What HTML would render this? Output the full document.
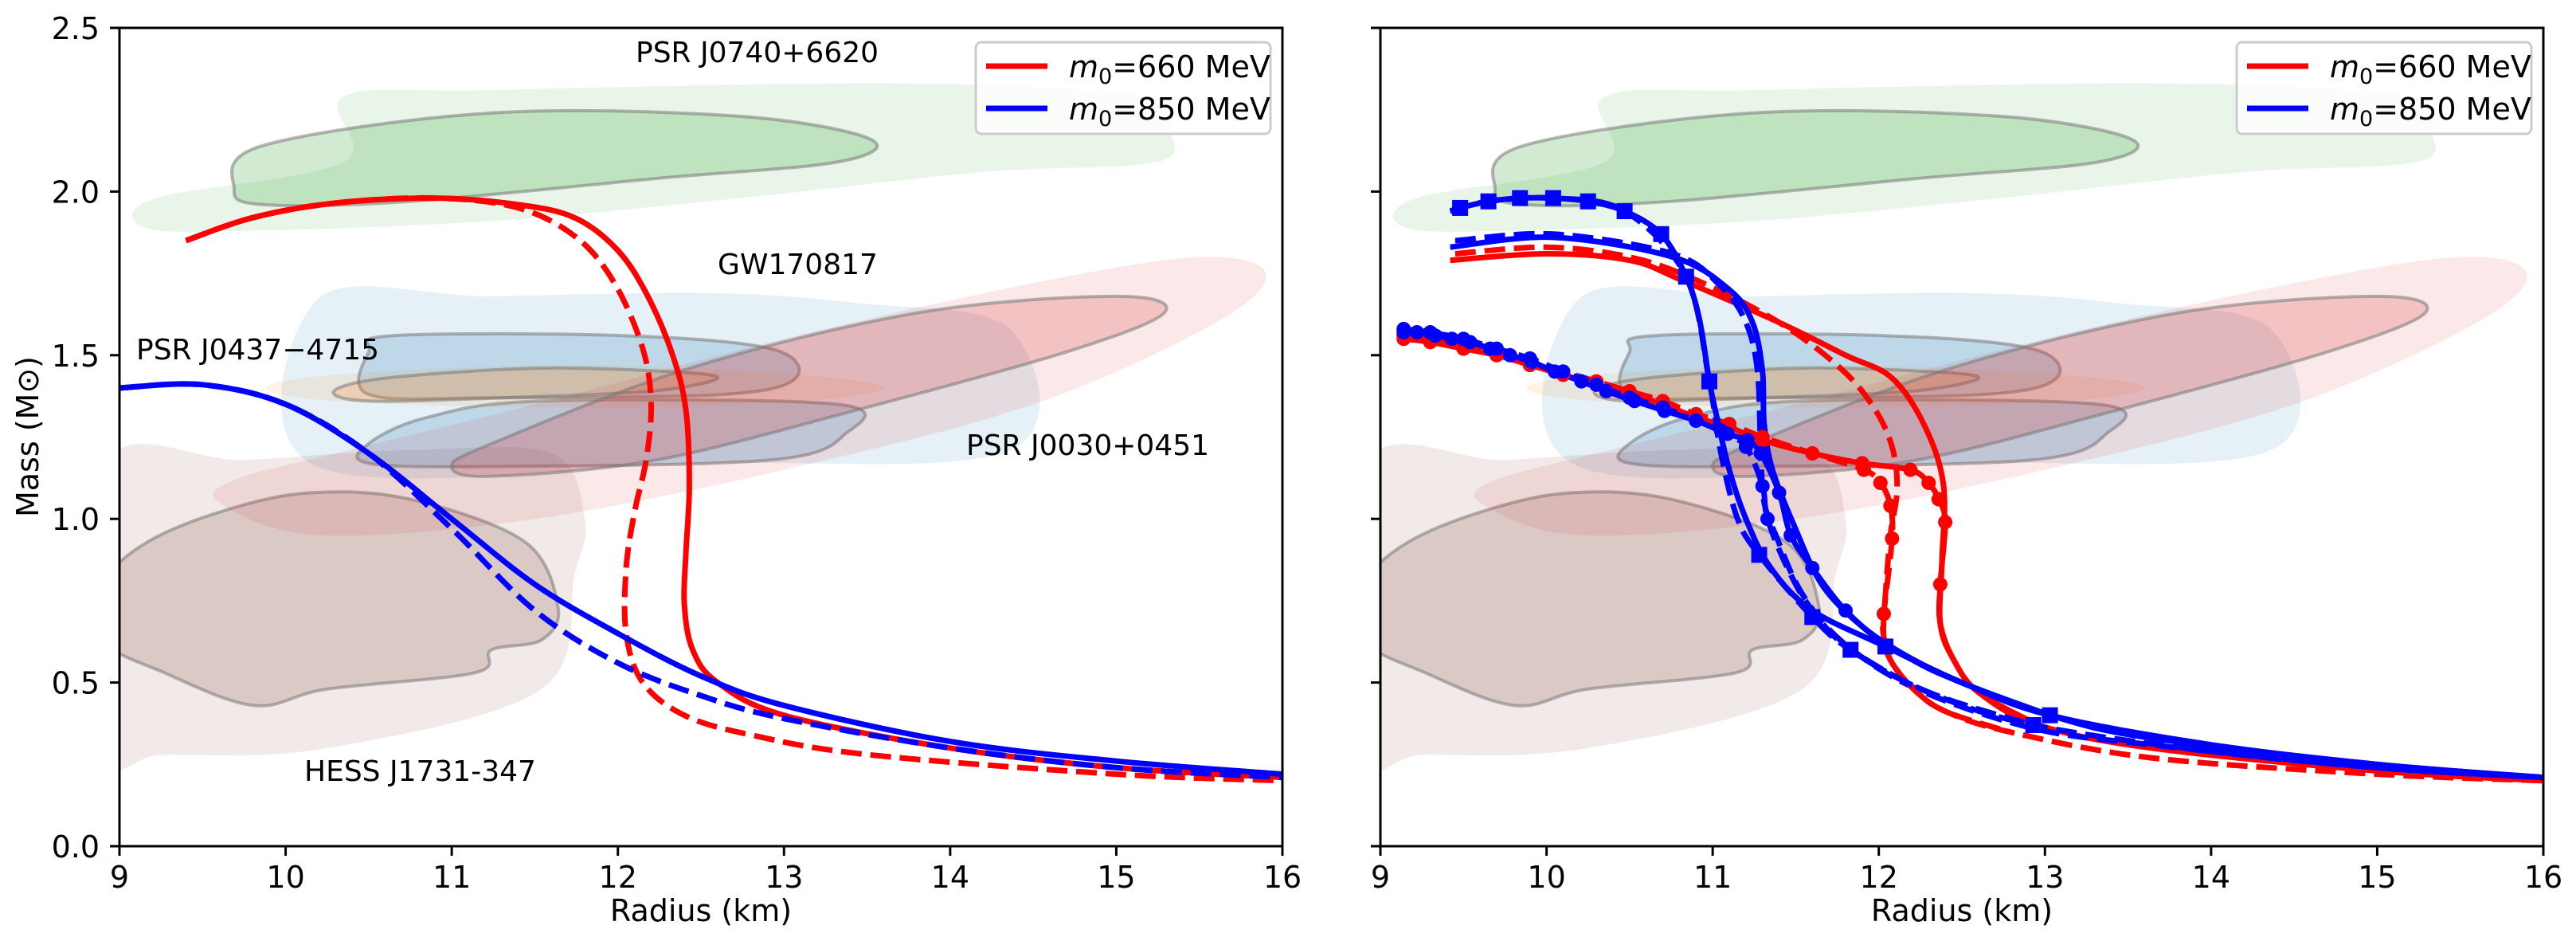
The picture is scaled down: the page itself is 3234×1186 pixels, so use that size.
<!DOCTYPE html>
<html><head><meta charset="utf-8"><style>
html,body{margin:0;padding:0;background:#fff;}
svg{display:block;font-family:"DejaVu Sans","Liberation Sans",sans-serif;}
</style></head><body>
<svg id="fig" width="3234" height="1186" viewBox="0 0 3234 1186" xmlns="http://www.w3.org/2000/svg">
<defs>
<clipPath id="clipL"><rect x="150" y="35" width="1460" height="1027"/></clipPath>
<clipPath id="clipR"><rect x="1733" y="35" width="1460" height="1027"/></clipPath>
</defs>
<g id="layer"></g>
</svg>
<script>
// ---- axis ticks ----
const xTicks = [9,10,11,12,13,14,15,16];
const yTicks = [0.0,0.5,1.0,1.5,2.0,2.5];
const yTickLabels = ['0.0','0.5','1.0','1.5','2.0','2.5'];

// ---- observational contours [radius, mass] ----
const greenLight = [[9.15,1.89],[9.22,1.98],[10.35,2.09],[10.35,2.29],[11.24,2.31],[13.71,2.33],[15.2,2.29],[15.32,2.19],[15.24,2.09],[14.2,2.06],[12.73,1.98],[11.24,1.91],[9.76,1.88]];
const greenDark = [[9.69,2.01],[9.86,2.14],[11.24,2.24],[12.73,2.23],[13.52,2.16],[13.32,2.09],[12.23,2.04],[10.75,1.97],[9.86,1.96]];
const blueLight = [[10.19,1.67],[11.24,1.68],[12.53,1.69],[13.42,1.66],[14.36,1.58],[14.36,1.21],[12.5,1.17],[10.19,1.16]];
const blueDarkA = [[10.5,1.51],[10.65,1.56],[12.03,1.56],[12.92,1.52],[13.07,1.43],[12.63,1.38],[11.24,1.37],[10.5,1.38]];
const blueDarkB = [[10.5,1.23],[10.85,1.31],[11.54,1.36],[13.32,1.35],[13.37,1.26],[12.92,1.18],[11.24,1.16],[10.5,1.17]];
const orangeLight = [[9.88,1.4],[10.3,1.44],[11.7,1.47],[13.1,1.44],[13.6,1.4],[13.1,1.36],[11.7,1.34],[10.3,1.36]];
const orangeDark = [[10.29,1.39],[10.6,1.43],[11.5,1.46],[12.3,1.45],[12.6,1.43],[12.2,1.39],[11.3,1.37],[10.5,1.36]];
const redLight = [[9.6,1.05],[10.2,0.95],[11.5,1.0],[13,1.15],[14.5,1.35],[15.6,1.6],[15.9,1.75],[15.5,1.8],[14.5,1.72],[13,1.55],[11.5,1.35],[10.3,1.2],[9.7,1.12]];
const redDark = [[11.0,1.16],[11.24,1.23],[12.43,1.46],[13.81,1.63],[15.0,1.68],[15.29,1.63],[14.7,1.51],[13.42,1.33],[12.23,1.18],[11.24,1.13]];
const hessLight = [[8.9,1.16],[9.76,1.18],[10.75,1.21],[11.6,1.2],[11.8,1.0],[11.74,0.83],[11.54,0.48],[10.25,0.3],[9.27,0.28],[8.9,0.3]];
const hessDark = [[8.9,0.8],[9.17,0.93],[9.66,1.03],[10.16,1.08],[10.75,1.06],[11.44,0.93],[11.64,0.73],[11.54,0.63],[11.24,0.6],[11.14,0.53],[10.25,0.48],[9.81,0.43],[9.27,0.53],[8.9,0.63]];

// ---- left panel series [radius, mass] ----
const L_red_solid = [[9.4,1.85],[9.8,1.92],[10.3,1.965],[10.9,1.98],[11.4,1.96],[11.74,1.92],[12.0,1.82],[12.18,1.68],[12.33,1.5],[12.41,1.33],[12.43,1.1],[12.41,0.9],[12.4,0.74],[12.45,0.6],[12.6,0.5],[13.0,0.4],[14,0.3],[15,0.24],[16,0.21]];
const L_red_dash = [[9.4,1.85],[9.8,1.92],[10.3,1.965],[10.9,1.98],[11.4,1.95],[11.75,1.86],[11.98,1.72],[12.15,1.52],[12.2,1.35],[12.17,1.18],[12.1,1.02],[12.05,0.85],[12.05,0.65],[12.15,0.5],[12.4,0.4],[12.8,0.34],[13.5,0.28],[15,0.22],[16,0.2]];
const L_blue_solid = [[9,1.4],[9.5,1.41],[10,1.35],[10.5,1.2],[11,1.0],[11.5,0.8],[12,0.65],[12.5,0.52],[13,0.43],[14,0.32],[15,0.26],[16,0.22]];
const L_blue_dash = [[9,1.4],[9.5,1.41],[10,1.35],[10.5,1.2],[11,0.97],[11.5,0.72],[12,0.56],[12.5,0.46],[13,0.39],[14,0.3],[15,0.24],[16,0.21]];

// ---- right panel series ----
const R_redB_solid = [[9.42,1.79],[10,1.81],[10.5,1.79],[10.81,1.73],[11.4,1.6],[11.8,1.5],[12.08,1.43],[12.28,1.28],[12.39,1.1],[12.38,0.87],[12.37,0.68],[12.45,0.57],[12.6,0.47],[12.96,0.37],[13.64,0.3],[15,0.23],[16,0.2]];
const R_redB_dash = [[9.45,1.81],[10,1.83],[10.5,1.8],[10.9,1.73],[11.4,1.6],[11.77,1.46],[11.97,1.34],[12.08,1.22],[12.11,1.09],[12.07,0.95],[12.04,0.77],[12.03,0.64],[12.08,0.56],[12.23,0.47],[12.41,0.41],[12.78,0.35],[13.64,0.27],[15,0.22],[16,0.2]];
const R_blueB_solid = [[9.42,1.83],[10.04,1.86],[10.76,1.8],[11.1,1.7],[11.24,1.6],[11.3,1.45],[11.31,1.29],[11.36,1.15],[11.49,0.98],[11.67,0.79],[11.95,0.65],[12.2,0.57],[12.45,0.51],[13.03,0.4],[13.64,0.33],[15,0.25],[16,0.21]];
const R_blueB_dash = [[9.45,1.85],[10.04,1.87],[10.76,1.81],[11.05,1.71],[11.2,1.6],[11.27,1.45],[11.29,1.19],[11.31,1.05],[11.38,0.95],[11.54,0.77],[11.79,0.62],[12.23,0.48],[12.93,0.36],[13.64,0.31],[15,0.24],[16,0.21]];
const R_redC_solid = [[9.14,1.55],[9.3,1.54],[9.5,1.52],[9.7,1.5],[9.9,1.47],[10.1,1.44],[10.3,1.41],[10.5,1.38],[10.7,1.35],[10.9,1.31],[11.1,1.28],[11.3,1.24],[11.6,1.2],[11.9,1.17],[12.19,1.15],[12.3,1.11],[12.36,1.06],[12.4,0.99],[12.37,0.8],[12.37,0.68],[12.45,0.57],[12.6,0.47],[12.96,0.37]];
const R_redC_dash = [[9.14,1.56],[9.3,1.55],[9.5,1.53],[9.7,1.51],[9.9,1.48],[10.1,1.45],[10.3,1.42],[10.5,1.39],[10.7,1.36],[10.9,1.32],[11.1,1.29],[11.3,1.25],[11.6,1.2],[11.91,1.15],[12.01,1.11],[12.07,1.04],[12.08,0.94],[12.03,0.71],[12.03,0.64],[12.08,0.56],[12.23,0.47],[12.41,0.41],[12.78,0.35]];
const R_blueC_solid = [[9.14,1.57],[9.22,1.57],[9.33,1.56],[9.43,1.55],[9.54,1.54],[9.66,1.52],[9.78,1.5],[9.91,1.48],[10.05,1.45],[10.21,1.42],[10.36,1.39],[10.53,1.36],[10.71,1.33],[10.9,1.3],[11.09,1.26],[11.21,1.24],[11.29,1.2],[11.4,1.08],[11.47,0.95],[11.6,0.85],[11.8,0.72],[12.04,0.62],[12.45,0.51],[13.03,0.4]];
const R_blueC_dash = [[9.14,1.58],[9.3,1.57],[9.5,1.55],[9.7,1.52],[9.9,1.49],[10.1,1.45],[10.3,1.41],[10.5,1.37],[10.7,1.34],[10.9,1.3],[11.05,1.27],[11.2,1.22],[11.3,1.1],[11.33,1.0],[11.45,0.85],[11.6,0.72],[11.83,0.6],[12.3,0.47],[12.93,0.37]];
const R_blueSq_solid = [[9.42,1.94],[9.48,1.95],[9.65,1.97],[9.84,1.98],[10.04,1.98],[10.25,1.97],[10.47,1.94],[10.69,1.87],[10.84,1.74],[10.92,1.61],[10.98,1.42],[11.03,1.3],[11.1,1.15],[11.2,1.0],[11.35,0.85],[11.6,0.72],[12.04,0.61],[12.5,0.5],[13.03,0.4],[14,0.31],[15,0.25],[16,0.21]];
const R_blueSq_dash = [[9.42,1.94],[9.65,1.97],[10.04,1.98],[10.47,1.94],[10.84,1.74],[10.98,1.42],[11.05,1.2],[11.15,1.0],[11.28,0.89],[11.6,0.7],[11.83,0.6],[12.3,0.47],[12.93,0.37],[14,0.29],[15,0.24],[16,0.21]];
const sqMarkIdx = [1,2,3,4,5,6,7,8,10,16,18];
const sqDashMarkIdx = [8,9,10,12];

const NS='http://www.w3.org/2000/svg';
const layer=document.getElementById('layer');
const RMIN=9,RMAX=16,MMIN=0,MMAX=2.5;
const PW=1460, YT=35, YB=1062;
function X(p,r){return p.x0+(r-RMIN)/(RMAX-RMIN)*PW;}
function Y(m){return YB-(m-MMIN)/(MMAX-MMIN)*(YB-YT);}
function mk(tag,parent){const e=document.createElementNS(NS,tag);parent.appendChild(e);return e;}
function smoothPath(p,arr,closed){
  const P=arr.map(d=>[X(p,d[0]),Y(d[1])]);
  const n=P.length;
  const get=i=>closed?P[(i+n)%n]:P[Math.max(0,Math.min(n-1,i))];
  let s='M'+P[0][0].toFixed(1)+','+P[0][1].toFixed(1);
  const segs=closed?n:n-1;
  for(let i=0;i<segs;i++){
    const p0=get(i-1),p1=get(i),p2=get(i+1),p3=get(i+2);
    const c1=[p1[0]+(p2[0]-p0[0])/6,p1[1]+(p2[1]-p0[1])/6];
    const c2=[p2[0]-(p3[0]-p1[0])/6,p2[1]-(p3[1]-p1[1])/6];
    s+=' C'+c1[0].toFixed(1)+','+c1[1].toFixed(1)+' '+c2[0].toFixed(1)+','+c2[1].toFixed(1)+' '+p2[0].toFixed(1)+','+p2[1].toFixed(1);
  }
  if(closed) s+=' Z';
  return s;
}

const panels=[{x0:150,clip:'clipL',name:'left'},{x0:1733,clip:'clipR',name:'right'}];

function contour(g,p,arr,fill,stroke,name){
  const e=mk('path',g);
  
  
  e.setAttribute('d',smoothPath(p,arr,true));
  e.setAttribute('fill',fill);
  e.setAttribute('stroke',stroke||'none');
  e.setAttribute('stroke-width','4');
}
function curve(g,p,arr,color,dashed,name){
  const e=mk('path',g);
  
  
  e.setAttribute('d',smoothPath(p,arr,false));
  e.setAttribute('fill','none');
  e.setAttribute('stroke',color);
  e.setAttribute('stroke-width','7');
  e.setAttribute('stroke-linejoin','round');
  if(dashed) e.setAttribute('stroke-dasharray','26,11');
}
function circles(g,p,arr,n,color,name){
  for(let i=0;i<n&&i<arr.length;i++){
    const c=mk('circle',g);
    
    
    c.setAttribute('cx',X(p,arr[i][0]));c.setAttribute('cy',Y(arr[i][1]));
    c.setAttribute('r','9');c.setAttribute('fill',color);
  }
}
function squares(g,p,arr,idx,color,name){
  idx.forEach(i=>{
    const s=mk('rect',g);
    
    
    s.setAttribute('x',X(p,arr[i][0])-10);s.setAttribute('y',Y(arr[i][1])-10);
    s.setAttribute('width','20');s.setAttribute('height','20');s.setAttribute('fill',color);
  });
}

panels.forEach((p,pi)=>{
  const g=mk('g',layer);
  
  
  g.setAttribute('clip-path','url(#'+p.clip+')');
  const ol='rgba(120,120,120,0.55)';
  contour(g,p,hessLight,'rgba(140,86,75,0.12)',null,'hess-contour-outer');
  contour(g,p,hessDark,'rgba(140,86,75,0.22)',ol,'hess-contour-inner');
  contour(g,p,greenLight,'rgba(44,160,44,0.11)',null,'j0740-contour-outer');
  contour(g,p,greenDark,'rgba(44,160,44,0.22)',ol,'j0740-contour-inner');
  contour(g,p,blueLight,'rgba(31,119,180,0.11)',null,'j0437-contour-outer');
  contour(g,p,blueDarkA,'rgba(31,119,180,0.2)',ol,'j0437-contour-inner-a');
  contour(g,p,blueDarkB,'rgba(31,119,180,0.2)',ol,'j0437-contour-inner-b');
  contour(g,p,orangeLight,'rgba(255,127,14,0.1)',null,'gw170817-contour-outer');
  contour(g,p,orangeDark,'rgba(255,127,14,0.2)',ol,'gw170817-contour-inner');
  contour(g,p,redLight,'rgba(214,39,40,0.1)',null,'j0030-contour-outer');
  contour(g,p,redDark,'rgba(214,39,40,0.2)',ol,'j0030-contour-inner');

  if(pi===0){
    curve(g,p,L_red_solid,'#ff0000',false,'red-660-solid');
    curve(g,p,L_red_dash,'#ff0000',true,'red-660-dashed');
    curve(g,p,L_blue_solid,'#0000ff',false,'blue-850-solid');
    curve(g,p,L_blue_dash,'#0000ff',true,'blue-850-dashed');
  } else {
    curve(g,p,R_redB_solid,'#ff0000',false,'red-660-solid');
    curve(g,p,R_redB_dash,'#ff0000',true,'red-660-dashed');
    curve(g,p,R_blueB_solid,'#0000ff',false,'blue-850-solid');
    curve(g,p,R_blueB_dash,'#0000ff',true,'blue-850-dashed');
    curve(g,p,R_redC_solid,'#ff0000',false,'red-660-circle-solid');
    curve(g,p,R_redC_dash,'#ff0000',true,'red-660-circle-dashed');
    curve(g,p,R_blueC_solid,'#0000ff',false,'blue-850-circle-solid');
    curve(g,p,R_blueC_dash,'#0000ff',true,'blue-850-circle-dashed');
    curve(g,p,R_blueSq_solid,'#0000ff',false,'blue-850-square-solid');
    curve(g,p,R_blueSq_dash,'#0000ff',true,'blue-850-square-dashed');
    circles(g,p,R_redC_solid,19,'#ff0000','red-circle-marker');
    circles(g,p,R_redC_dash,18,'#ff0000','red-circle-marker');
    circles(g,p,R_blueC_solid,21,'#0000ff','blue-circle-marker');
    circles(g,p,R_blueC_dash,14,'#0000ff','blue-circle-marker');
    squares(g,p,R_blueSq_solid,sqMarkIdx,'#0000ff','blue-square-marker');
    squares(g,p,R_blueSq_dash,sqDashMarkIdx,'#0000ff','blue-square-marker');
  }

  const fr=mk('rect',layer);
  
  
  fr.setAttribute('x',p.x0);fr.setAttribute('y',YT);fr.setAttribute('width',PW);fr.setAttribute('height',YB-YT);
  fr.setAttribute('fill','none');fr.setAttribute('stroke','#000');fr.setAttribute('stroke-width','3');

  xTicks.forEach(t=>{
    const l=mk('line',layer);
    
    
    l.setAttribute('x1',X(p,t));l.setAttribute('x2',X(p,t));l.setAttribute('y1',YB);l.setAttribute('y2',YB+12);
    l.setAttribute('stroke','#000');l.setAttribute('stroke-width','3');
    const tx=mk('text',layer);
    
    
    tx.setAttribute('x',X(p,t));tx.setAttribute('y',YB+52);tx.setAttribute('text-anchor','middle');
    tx.setAttribute('font-size','38');tx.textContent=String(t);
  });
  yTicks.forEach((t,i)=>{
    const l=mk('line',layer);
    
    
    l.setAttribute('x1',p.x0-12);l.setAttribute('x2',p.x0);l.setAttribute('y1',Y(t));l.setAttribute('y2',Y(t));
    l.setAttribute('stroke','#000');l.setAttribute('stroke-width','3');
    if(pi===0){
      const tx=mk('text',layer);
      
      
      tx.setAttribute('x',p.x0-25);tx.setAttribute('y',Y(t)+14);tx.setAttribute('text-anchor','end');
      tx.setAttribute('font-size','38');tx.textContent=yTickLabels[i];
    }
  });
  const xl=mk('text',layer);
  
  
  xl.setAttribute('x',p.x0+PW/2);xl.setAttribute('y',1156);xl.setAttribute('text-anchor','middle');
  xl.setAttribute('font-size','38');xl.textContent='Radius (km)';
  if(pi===0){
    const yl=mk('text',layer);
    
    
    const yx=p.x0-102;
    yl.setAttribute('x',yx);yl.setAttribute('y',548);yl.setAttribute('text-anchor','middle');
    yl.setAttribute('transform','rotate(-90 '+yx+' 548)');
    yl.setAttribute('font-size','38');yl.textContent='Mass (M\u2299)';
  }

  const lx=p.x0+1075;
  const lg=mk('g',layer);
  
  
  const box=mk('rect',lg);
  box.setAttribute('x',lx);box.setAttribute('y',53);box.setAttribute('width',370);box.setAttribute('height',115);
  box.setAttribute('rx',7);box.setAttribute('fill','rgba(255,255,255,0.8)');box.setAttribute('stroke','#ccc');box.setAttribute('stroke-width','3');
  [['#ff0000','660',83],['#0000ff','850',136]].forEach(e=>{
    const ln=mk('line',lg);
    
    
    ln.setAttribute('x1',lx+13);ln.setAttribute('x2',lx+90);ln.setAttribute('y1',e[2]);ln.setAttribute('y2',e[2]);
    ln.setAttribute('stroke',e[0]);ln.setAttribute('stroke-width','7');
    const t=mk('text',lg);
    
    
    t.setAttribute('x',lx+117);t.setAttribute('y',e[2]+14);t.setAttribute('font-size','38');
    t.innerHTML='<tspan font-style="italic">m</tspan><tspan font-size="27" dy="8">0</tspan><tspan dy="-8">='+e[1]+' MeV</tspan>';
  });
});

[['PSR J0740+6620',798,78,'label-j0740'],['GW170817',901,344,'label-gw170817'],['PSR J0437\u22124715',171,451,'label-j0437'],['PSR J0030+0451',1213,571,'label-j0030'],['HESS J1731-347',382,980,'label-hess']].forEach(a=>{
  const t=mk('text',layer);
  
  
  t.setAttribute('x',a[1]);t.setAttribute('y',a[2]);t.setAttribute('font-size','36');
  t.textContent=a[0];
});
</script>
</body></html>
